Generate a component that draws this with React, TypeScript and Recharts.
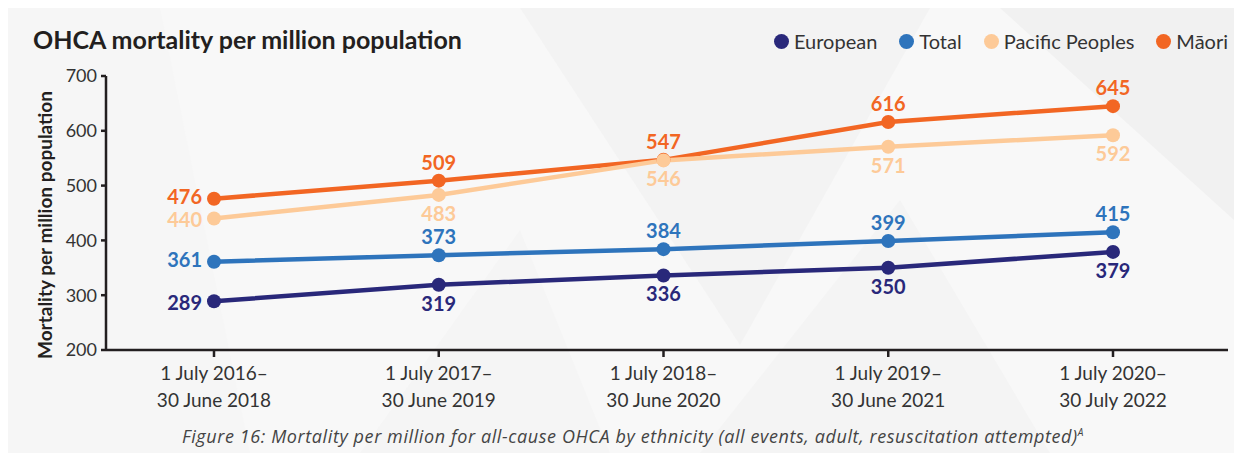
import { LineChart, Line, XAxis, YAxis, LabelList } from "recharts";

const periodStarts = ["1 July 2016–", "1 July 2017–", "1 July 2018–", "1 July 2019–", "1 July 2020–"];
const periodEnds = ["30 June 2018", "30 June 2019", "30 June 2020", "30 June 2021", "30 July 2022"];

const european = [289, 319, 336, 350, 379];
const total = [361, 373, 384, 399, 415];
const pacific = [440, 483, 546, 571, 592];
const maori = [476, 509, 547, 616, 645];

const yTicks = [200, 300, 400, 500, 600, 700];

const FONT = "Lato, 'Noto Sans', sans-serif";
const INK = "#231f20";

// legend order
const SERIES = [
  { key: "european", name: "European", color: "#29287a", side: "below" },
  { key: "total", name: "Total", color: "#2e74bc", side: "above" },
  { key: "pacific", name: "Pacific Peoples", color: "#fdca98", side: "below" },
  { key: "maori", name: "Māori", color: "#f26623", side: "above" },
];
// draw order (pacific dots sit on top of the māori line)
const DRAW_ORDER = ["maori", "pacific", "total", "european"];

const data = periodStarts.map((p, i) => ({
  period: p,
  european: european[i],
  total: total[i],
  pacific: pacific[i],
  maori: maori[i],
}));

function PeriodTick(props: any) {
  const { x, y, index } = props;
  return (
    <g transform={`translate(${x},${y})`}>
      <text textAnchor="middle" fill="#333" fontSize={19} fontFamily={FONT}>
        <tspan x={0} dy={21}>{periodStarts[index]}</tspan>
        <tspan x={0} dy={27}>{periodEnds[index]}</tspan>
      </text>
    </g>
  );
}

function makeLabel(color: string, side: string) {
  return (props: any) => {
    const { x, y, value, index } = props;
    if (x == null || y == null) return null;
    let tx = x;
    let ty = y;
    let anchor = "middle";
    if (index === 0) {
      // first period: labels sit left of the dot
      tx = x - 12;
      ty = side === "above" ? y + 5 : y + 9;
      anchor = "end";
    } else if (side === "above") {
      ty = y - 11;
    } else {
      ty = y + 26;
    }
    return (
      <text x={tx} y={ty} textAnchor={anchor} fill={color} fontSize={20} fontWeight={700} fontFamily={FONT}>
        {value}
      </text>
    );
  };
}

function LegendRow() {
  return (
    <div style={{ display: "flex", gap: 22, fontFamily: FONT, fontSize: 20, color: "#333" }}>
      {SERIES.map((s) => (
        <div key={s.key} style={{ display: "flex", alignItems: "center", gap: 5 }}>
          <span style={{ width: 15, height: 15, borderRadius: 8, background: s.color, display: "inline-block" }} />
          <span>{s.name}</span>
        </div>
      ))}
    </div>
  );
}

export default function App() {
  return (
    <div style={{ position: "relative", width: 1242, height: 461, background: "#fff" }}>
      <style>{"body{margin:0}"}</style>
      <svg width={1242} height={461} style={{ position: "absolute", left: 0, top: 0 }}>
        <rect x={8} y={8} width={1226} height={445} fill="#f8f8f8" />
        <polygon points="8,8 160,8 250,453 8,453" fill="#f6f6f6" />
        <polygon points="520,8 930,8 740,345" fill="#f3f3f3" />
        <polygon points="360,453 520,230 610,453" fill="#f5f5f5" />
        <polygon points="1000,8 1234,8 1234,220" fill="#f1f1f1" />
        <polygon points="700,453 900,200 1050,453" fill="#f4f4f4" />
      </svg>
      <div
        style={{
          position: "absolute",
          left: 33,
          top: 24,
          fontFamily: FONT,
          fontWeight: 700,
          fontSize: 25,
          color: INK,
        }}
      >
        OHCA mortality per million population
      </div>
      <div style={{ position: "absolute", right: 14, top: 29 }}>
        <LegendRow />
      </div>
      <div style={{ position: "absolute", left: 0, top: 0 }}>
        <LineChart width={1242} height={461} data={data} margin={{ top: 76, right: 14, bottom: 51, left: 46 }}>
          <XAxis
            dataKey="period"
            height={60}
            padding={{ left: 108, right: 115 }}
            axisLine={{ stroke: INK, strokeWidth: 2.5 }}
            tickLine={{ stroke: INK, strokeWidth: 2.5 }}
            tickSize={7}
            tick={<PeriodTick />}
            interval={0}
          />
          <YAxis
            width={60}
            domain={[200, 700]}
            ticks={yTicks}
            axisLine={{ stroke: INK, strokeWidth: 2.5 }}
            tickLine={{ stroke: INK, strokeWidth: 2.5 }}
            tickSize={5}
            tickMargin={4}
            tick={{ fontSize: 18, fill: "#333", fontFamily: FONT }}
            label={{
              content: (p: any) => {
                const vb = p.viewBox || {};
                const cx = 44;
                const cy = (vb.y ?? 76) + (vb.height ?? 274) / 2 + 12;
                return (
                  <text
                    x={cx}
                    y={cy}
                    transform={`rotate(-90 ${cx} ${cy})`}
                    textAnchor="middle"
                    dominantBaseline="central"
                    fontSize={19}
                    fontWeight={700}
                    fill={INK}
                    fontFamily={FONT}
                  >
                    Mortality per million population
                  </text>
                );
              },
            }}
          />
          {DRAW_ORDER.map((k) => {
            const s = SERIES.find((x) => x.key === k)!;
            return (
              <Line
                key={s.key}
                dataKey={s.key}
                name={s.name}
                type="linear"
                stroke={s.color}
                strokeWidth={4.5}
                dot={{ r: 7, fill: s.color, stroke: "none" }}
                activeDot={false}
                isAnimationActive={false}
              >
                <LabelList dataKey={s.key} content={makeLabel(s.color, s.side)} />
              </Line>
            );
          })}
        </LineChart>
      </div>
      <div
        style={{
          position: "absolute",
          left: 0,
          width: 1242,
          top: 424,
          textAlign: "center",
          fontFamily: "'Open Sans', sans-serif",
          fontStyle: "italic",
          fontSize: 18,
          letterSpacing: 0.6,
          color: "#444",
        }}
      >
        <span style={{ marginLeft: 24 }}>
          Figure 16: Mortality per million for all-cause OHCA by ethnicity (all events, adult, resuscitation attempted)
          <sup style={{ fontSize: 10 }}>A</sup>
        </span>
      </div>
    </div>
  );
}
